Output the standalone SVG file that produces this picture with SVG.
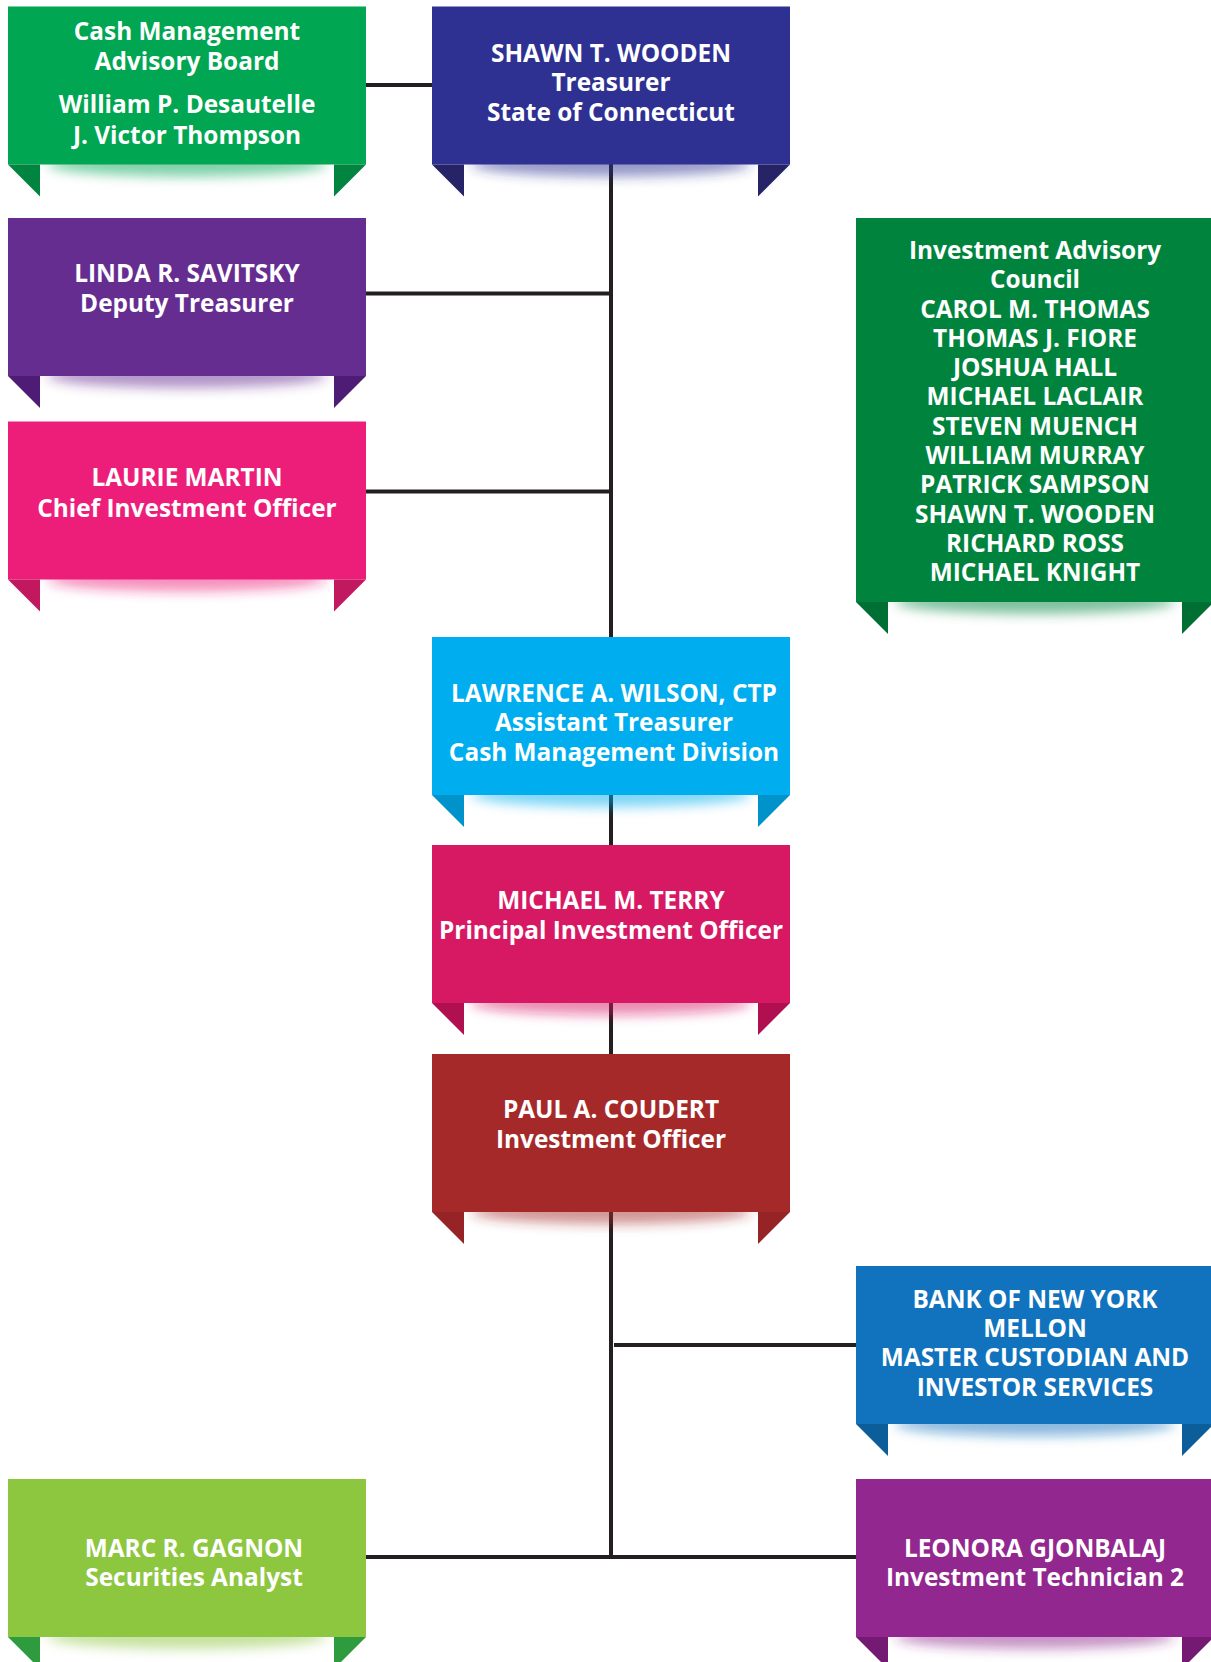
<svg xmlns="http://www.w3.org/2000/svg" width="1211" height="1662" viewBox="0 0 1211 1662">
<style>
.t{font-family:"Open Sans","Liberation Sans",sans-serif;font-weight:700;font-size:24.4px;fill:#fff;text-anchor:middle}
.c{stroke:#231F20;stroke-width:4;fill:none}
.sh{filter:url(#blur);fill-opacity:0.5}
</style>
<defs>
<filter id="blur" x="-20%" y="-150%" width="140%" height="400%"><feGaussianBlur stdDeviation="6"/></filter>
</defs>
<rect width="1211" height="1662" fill="#fff"/>
<g id="connectors">
<line class="c" x1="366" y1="85" x2="432" y2="85"/>
<line class="c" x1="611" y1="164" x2="611" y2="1558"/>
<line class="c" x1="366" y1="293.5" x2="611" y2="293.5"/>
<line class="c" x1="366" y1="491.5" x2="611" y2="491.5"/>
<line class="c" x1="614" y1="1345" x2="856" y2="1345"/>
<line class="c" x1="366" y1="1557" x2="856" y2="1557"/>
</g>
<g id="cash-management-advisory-board">
<ellipse class="sh" cx="187" cy="164.5" rx="140" ry="12" fill="#00A651"/>
<rect x="8" y="6.5" width="358" height="158" fill="#00A651"/>
<polygon points="8,164.5 40,164.5 40,196.5" fill="#00843F"/>
<polygon points="334,164.5 366,164.5 334,196.5" fill="#00843F"/>
<text class="t" x="187" y="40">Cash Management</text>
<text class="t" x="187" y="70">Advisory Board</text>
<text class="t" x="187" y="113">William P. Desautelle</text>
<text class="t" x="187" y="144">J. Victor Thompson</text>
</g>
<g id="shawn-wooden">
<ellipse class="sh" cx="611" cy="164.5" rx="140" ry="12" fill="#2E3192"/>
<rect x="432" y="6.5" width="358" height="158" fill="#2E3192"/>
<polygon points="432,164.5 464,164.5 464,196.5" fill="#262466"/>
<polygon points="758,164.5 790,164.5 758,196.5" fill="#262466"/>
<text class="t" x="611" y="61.5">SHAWN T. WOODEN</text>
<text class="t" x="611" y="91">Treasurer</text>
<text class="t" x="611" y="121">State of Connecticut</text>
</g>
<g id="linda-savitsky">
<ellipse class="sh" cx="187" cy="376" rx="140" ry="12" fill="#662D91"/>
<rect x="8" y="218" width="358" height="158" fill="#662D91"/>
<polygon points="8,376 40,376 40,408" fill="#4E1C74"/>
<polygon points="334,376 366,376 334,408" fill="#4E1C74"/>
<text class="t" x="187" y="282">LINDA R. SAVITSKY</text>
<text class="t" x="187" y="311.5">Deputy Treasurer</text>
</g>
<g id="laurie-martin">
<ellipse class="sh" cx="187" cy="579.5" rx="140" ry="12" fill="#ED1E79"/>
<rect x="8" y="421.5" width="358" height="158" fill="#ED1E79"/>
<polygon points="8,579.5 40,579.5 40,611.5" fill="#C2185F"/>
<polygon points="334,579.5 366,579.5 334,611.5" fill="#C2185F"/>
<text class="t" x="187" y="486">LAURIE MARTIN</text>
<text class="t" x="187" y="517">Chief Investment Officer</text>
</g>
<g id="investment-advisory-council">
<ellipse class="sh" cx="1035" cy="602" rx="140" ry="12" fill="#00843D"/>
<rect x="856" y="218" width="358" height="384" fill="#00843D"/>
<polygon points="856,602 888,602 888,634" fill="#006F33"/>
<polygon points="1182,602 1214,602 1182,634" fill="#006F33"/>
<text class="t" x="1035" y="258.5">Investment Advisory</text>
<text class="t" x="1035" y="288">Council</text>
<text class="t" x="1035" y="317.5">CAROL M. THOMAS</text>
<text class="t" x="1035" y="346.5">THOMAS J. FIORE</text>
<text class="t" x="1035" y="375.5">JOSHUA HALL</text>
<text class="t" x="1035" y="405">MICHAEL LACLAIR</text>
<text class="t" x="1035" y="434.5">STEVEN MUENCH</text>
<text class="t" x="1035" y="463.5">WILLIAM MURRAY</text>
<text class="t" x="1035" y="493">PATRICK SAMPSON</text>
<text class="t" x="1035" y="522.5">SHAWN T. WOODEN</text>
<text class="t" x="1035" y="551.5">RICHARD ROSS</text>
<text class="t" x="1035" y="581">MICHAEL KNIGHT</text>
</g>
<g id="lawrence-wilson">
<ellipse class="sh" cx="611" cy="795" rx="140" ry="12" fill="#00AEEF"/>
<rect x="432" y="637" width="358" height="158" fill="#00AEEF"/>
<polygon points="432,795 464,795 464,827" fill="#0092CA"/>
<polygon points="758,795 790,795 758,827" fill="#0092CA"/>
<text class="t" x="614" y="701.5">LAWRENCE A. WILSON, CTP</text>
<text class="t" x="614" y="731">Assistant Treasurer</text>
<text class="t" x="614" y="760.5">Cash Management Division</text>
</g>
<g id="michael-terry">
<ellipse class="sh" cx="611" cy="1003" rx="140" ry="12" fill="#D71964"/>
<rect x="432" y="845" width="358" height="158" fill="#D71964"/>
<polygon points="432,1003 464,1003 464,1035" fill="#B0104F"/>
<polygon points="758,1003 790,1003 758,1035" fill="#B0104F"/>
<text class="t" x="611" y="909">MICHAEL M. TERRY</text>
<text class="t" x="611" y="939">Principal Investment Officer</text>
</g>
<g id="paul-coudert">
<ellipse class="sh" cx="611" cy="1212" rx="140" ry="12" fill="#A6292A"/>
<rect x="432" y="1054" width="358" height="158" fill="#A6292A"/>
<polygon points="432,1212 464,1212 464,1244" fill="#962426"/>
<polygon points="758,1212 790,1212 758,1244" fill="#962426"/>
<text class="t" x="611" y="1118">PAUL A. COUDERT</text>
<text class="t" x="611" y="1147.5">Investment Officer</text>
</g>
<g id="bank-of-new-york-mellon">
<ellipse class="sh" cx="1035" cy="1424" rx="140" ry="12" fill="#1173BD"/>
<rect x="856" y="1266" width="358" height="158" fill="#1173BD"/>
<polygon points="856,1424 888,1424 888,1456" fill="#0B5E9A"/>
<polygon points="1182,1424 1214,1424 1182,1456" fill="#0B5E9A"/>
<text class="t" x="1035" y="1307.5">BANK OF NEW YORK</text>
<text class="t" x="1035" y="1336.5">MELLON</text>
<text class="t" x="1035" y="1366">MASTER CUSTODIAN AND</text>
<text class="t" x="1035" y="1395.5">INVESTOR SERVICES</text>
</g>
<g id="marc-gagnon">
<ellipse class="sh" cx="187" cy="1637" rx="140" ry="12" fill="#8DC63F"/>
<rect x="8" y="1479" width="358" height="158" fill="#8DC63F"/>
<polygon points="8,1637 40,1637 40,1669" fill="#2E9B3E"/>
<polygon points="334,1637 366,1637 334,1669" fill="#2E9B3E"/>
<text class="t" x="194" y="1556.5">MARC R. GAGNON</text>
<text class="t" x="194" y="1586">Securities Analyst</text>
</g>
<g id="leonora-gjonbalaj">
<ellipse class="sh" cx="1035" cy="1637" rx="140" ry="12" fill="#92278F"/>
<rect x="856" y="1479" width="358" height="158" fill="#92278F"/>
<polygon points="856,1637 888,1637 888,1669" fill="#741A72"/>
<polygon points="1182,1637 1214,1637 1182,1669" fill="#741A72"/>
<text class="t" x="1035" y="1556.5">LEONORA GJONBALAJ</text>
<text class="t" x="1035" y="1586">Investment Technician 2</text>
</g>
</svg>
